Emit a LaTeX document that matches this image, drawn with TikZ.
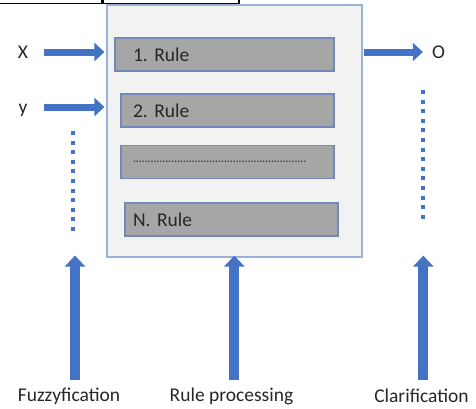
\documentclass[tikz,border=0pt]{standalone}
\usepackage{fontspec}
\setmainfont{Carlito}
\usetikzlibrary{arrows.meta}
\definecolor{arrowblue}{HTML}{4472C4}
\definecolor{boxfill}{HTML}{F2F2F2}
\definecolor{boxline}{HTML}{9DB0D6}
\definecolor{rulefill}{HTML}{A6A6A6}
\definecolor{ruleline}{HTML}{7489B8}
\definecolor{txt}{HTML}{262626}
\tikzset{
  mainbox/.style={draw=boxline, fill=boxfill, line width=1.2pt, inner sep=0pt},
  rulebox/.style={draw=ruleline, fill=rulefill, line width=1.3pt, minimum height=33pt,
    inner ysep=0pt, align=left, text=txt, font=\fontsize{19.5}{22}\selectfont},
  lbl/.style={inner sep=0pt, text=txt, font=\fontsize{19.5}{22}\selectfont},
  harrow/.style={draw=arrowblue, line width=7pt, -{Triangle[length=10pt,width=18pt]}},
  varrow/.style={draw=arrowblue, line width=10pt, -{Triangle[length=11pt,width=20pt]}},
  dotline/.style={draw=arrowblue, line width=4pt, dash pattern=on 4pt off 5.6pt},
  edge/.style={draw=black, line width=1.2pt}
}
\begin{document}
\begin{tikzpicture}[x=1pt,y=-1pt]
\useasboundingbox (0,0) rectangle (476,408);
% clipped table borders at the top
\draw[edge] (0,3.5) -- (102,3.5) -- (102,-2);
\draw[edge] (103,-2) -- (103,3.5) -- (239,3.5) -- (239,-2);
% main box
\node[mainbox, minimum width=255pt, minimum height=252pt] (main) at (234.5,131) {};
% rules
\node[rulebox, inner xsep=18pt, text width=183pt] (r1) at (224.5,54.5) {1.\ Rule};
\node[rulebox, inner xsep=12pt, text width=189pt] (r2) at (227.5,110.5) {2.\ Rule};
\node[rulebox, inner xsep=12pt, text width=189pt, text=black!75, font=\bfseries\fontsize{11}{12}\selectfont] (r3) at (227.5,162) {...........................................................};
\node[rulebox, inner xsep=8pt, text width=197pt] (rn) at (231.5,219.5) {N.\ Rule};
% inputs and output
\node[lbl, anchor=base] (X) at (23,58.5) {X};
\node[lbl, anchor=base] (Y) at (23,113) {y};
\node[lbl, anchor=base] (O) at (438.5,58.5) {O};
\draw[harrow, shorten <=16pt] (X.east |- 0,52) -- ([xshift=-2pt]main.west |- 0,52);
\draw[harrow, shorten <=16pt] (X.east |- 0,107) -- ([xshift=-2pt]main.west |- 0,107);
\draw[harrow, shorten <=1pt, shorten >=9pt] (main.east |- 0,52) -- (O.west |- 0,52);
% dotted continuation lines
\coordinate (ld1) at (73,131);
\coordinate (ld2) at (73,231);
\coordinate (rd1) at (423,90);
\coordinate (rd2) at (423,220);
\draw[dotline] (ld1) -- (ld2);
\draw[dotline] (rd1) -- (rd2);
% bottom labels
\node[lbl, anchor=base] (fuzz) at (69,401) {Fuzzyfication};
\node[lbl, anchor=base] (proc) at (231.5,401) {Rule processing};
\node[lbl, anchor=base] (clar) at (421.5,402) {Clarification};
\coordinate (fa) at (75,380);
\coordinate (pa) at (234.3,380);
\coordinate (ca) at (423.3,380);
\draw[varrow] (fa) -- ([yshift=2pt]main.south -| fa);
\draw[varrow] (pa) -- ([yshift=2pt]main.south -| pa);
\draw[varrow] (ca) -- ([yshift=2pt]main.south -| ca);
\end{tikzpicture}
\end{document}
